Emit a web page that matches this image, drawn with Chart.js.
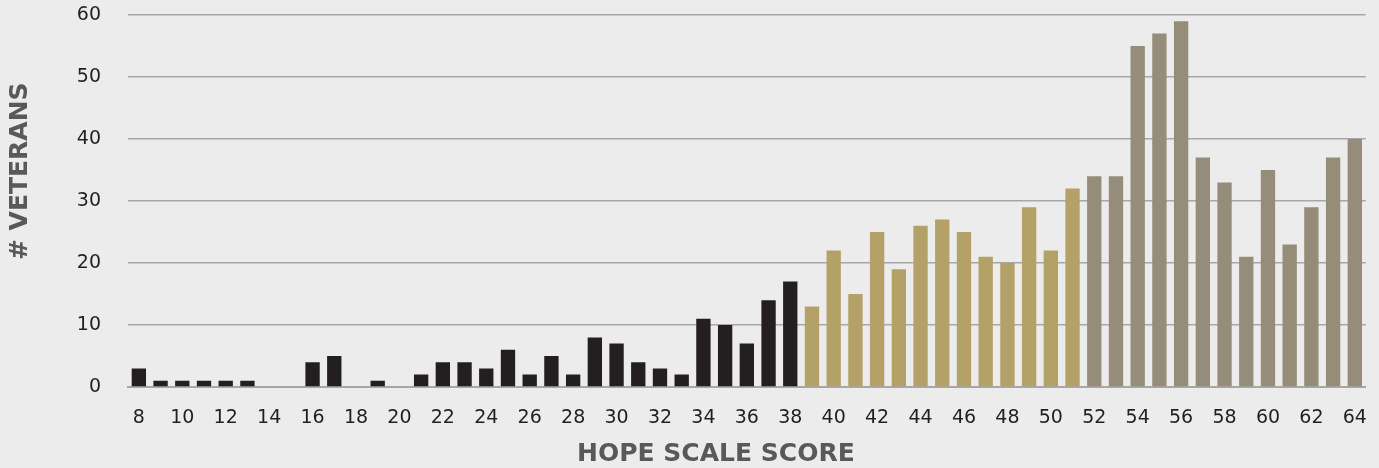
<!DOCTYPE html>
<html>
<head>
<meta charset="utf-8">
<script src="https://cdn.jsdelivr.net/npm/chart.js@4"></script>
<style>
  html, body { margin: 0; padding: 0; background: #ececec; }
  #wrap { width: 1379px; height: 468px; }
</style>
</head>
<body>
<div id="wrap"><canvas id="chart"></canvas></div>
<script>
// hope scale scores 8..64
const scores = [];
for (let s = 8; s <= 64; s++) scores.push(String(s));

const veterans = [
  3, 1, 1, 1, 1, 1, 0, 0, 4, 5, 0, 1, 0, 2, 4, 4,      // 8-23
  3, 6, 2, 5, 2, 8, 7, 4, 3, 2, 11, 10, 7, 14, 17,    // 24-38
  13, 22, 15, 25, 19, 26, 27, 25, 21, 20, 29, 22, 32, // 39-51
  34, 34, 55, 57, 59, 37, 33, 21, 35, 23, 29, 37, 40  // 52-64
];

const yTicks = [0, 10, 20, 30, 40, 50, 60];

const LOW = '#231f20', MID = '#b4a168', HIGH = '#958c7a';
const barColors = scores.map(s => {
  const n = Number(s);
  if (n <= 38) return LOW;
  if (n <= 51) return MID;
  return HIGH;
});

const FONT = '"DejaVu Sans", "Liberation Sans", sans-serif';

// axis titles sit off-centre in the original
const titlePlugin = {
  id: 'axisTitles',
  afterDraw(chart) {
    const ctx = chart.ctx;
    const area = chart.chartArea;
    ctx.save();
    ctx.fillStyle = '#58595b';
    ctx.font = 'bold 25px ' + FONT;
    ctx.textAlign = 'center';
    ctx.textBaseline = 'middle';
    ctx.fillText('HOPE SCALE SCORE', area.left + (area.right - area.left) * 0.475, 454);
    ctx.translate(20, area.top + (area.bottom - area.top) * 0.42);
    ctx.rotate(-Math.PI / 2);
    ctx.fillText('# VETERANS', 0, 0);
    ctx.restore();
  }
};

new Chart(document.getElementById('chart'), {
  type: 'bar',
  data: {
    labels: scores,
    datasets: [{
      data: veterans,
      backgroundColor: barColors,
      borderWidth: 0,
      barPercentage: 0.66,
      categoryPercentage: 1.0
    }]
  },
  options: {
    responsive: true,
    maintainAspectRatio: false,
    animation: false,
    layout: { padding: { top: 15, right: 10, left: 0, bottom: 0 } },
    plugins: { legend: { display: false }, tooltip: { enabled: false } },
    scales: {
      x: {
        grid: { display: false },
        border: { display: true, color: '#a7a7a7', width: 2 },
        ticks: {
          autoSkip: false,
          maxRotation: 0,
          color: '#231f20',
          font: { family: FONT, size: 19 },
          padding: 12,
          callback: function (v, i) { return Number(scores[i]) % 2 === 0 ? scores[i] : ''; }
        },
        afterFit: (scale) => { scale.height = 81; }
      },
      y: {
        min: 0, max: 60,
        afterBuildTicks: (scale) => { scale.ticks = yTicks.map(v => ({ value: v })); },
        grid: { color: '#a7a7a7', lineWidth: 1.5, drawTicks: true, tickLength: 27, tickColor: 'rgba(0,0,0,0)' },
        border: { display: false },
        ticks: {
          color: '#231f20',
          font: { family: FONT, size: 19 },
          padding: 0
        },
        afterFit: (scale) => { scale.width = 128; }
      }
    }
  },
  plugins: [titlePlugin]
});
</script>
</body>
</html>
